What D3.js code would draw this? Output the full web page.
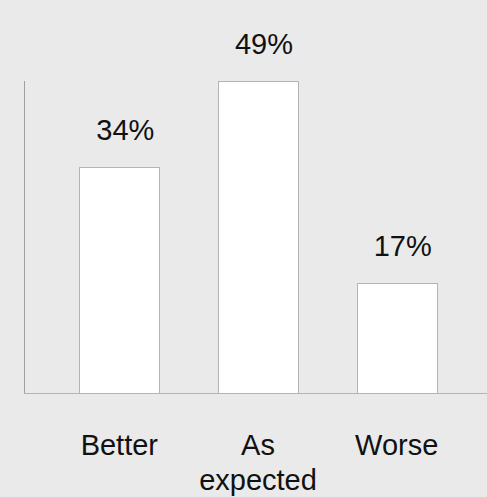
<!DOCTYPE html>
<html>
<head>
<meta charset="utf-8">
<script src="https://cdn.jsdelivr.net/npm/d3@7"></script>
<style>
  html, body { margin: 0; padding: 0; background: #eaeaea; }
  svg { display: block; }
</style>
</head>
<body>
<svg id="chart" width="487" height="497"></svg>
<script>
const categories = [["Better"], ["As", "expected"], ["Worse"]];
const categoryKeys = ["Better", "As expected", "Worse"];
const values = [35.5, 49, 17.3];
const valueLabels = ["34%", "49%", "17%"];

const W = 487, H = 497;
const svg = d3.select("#chart");
svg.append("rect").attr("width", W).attr("height", H).attr("fill", "#eaeaea");

const axisX = 24, baseY = 393, topY = 81;

const x = d3.scaleBand().domain(categoryKeys).range([50, 466])
  .paddingInner(0.422).paddingOuter(0.211);
const y = d3.scaleLinear().domain([0, d3.max(values)]).range([baseY, topY]);

const font = "'Liberation Sans', Arial, sans-serif";

// bars
svg.selectAll("rect.bar").data(values).enter().append("rect")
  .attr("class", "bar")
  .attr("x", (d, i) => Math.round(x(categoryKeys[i])) + 0.5)
  .attr("y", d => Math.round(y(d)) + 0.5)
  .attr("width", Math.round(x.bandwidth()))
  .attr("height", d => baseY - Math.round(y(d)))
  .attr("fill", "#ffffff")
  .attr("stroke", "#b4b4b4")
  .attr("stroke-width", 1);

// axes lines
svg.append("line").attr("x1", axisX + 0.5).attr("x2", axisX + 0.5)
  .attr("y1", topY).attr("y2", baseY + 1)
  .attr("stroke", "#a0a0a0").attr("stroke-width", 1);
svg.append("line").attr("x1", axisX).attr("x2", W)
  .attr("y1", baseY + 0.5).attr("y2", baseY + 0.5)
  .attr("stroke", "#b4b4b4").attr("stroke-width", 1);

// value labels
svg.selectAll("text.val").data(values).enter().append("text")
  .attr("class", "val")
  .attr("x", (d, i) => x(categoryKeys[i]) + x.bandwidth() / 2 + 6)
  .attr("y", d => y(d) - 27)
  .attr("text-anchor", "middle")
  .attr("font-family", font)
  .attr("font-size", 29)
  .attr("fill", "#111")
  .text((d, i) => valueLabels[i]);

// category labels
categories.forEach((lines, i) => {
  const t = svg.append("text")
    .attr("x", x(categoryKeys[i]) + x.bandwidth() / 2)
    .attr("y", 455)
    .attr("text-anchor", "middle")
    .attr("font-family", font)
    .attr("font-size", 29)
    .attr("fill", "#111");
  lines.forEach((ln, j) => {
    t.append("tspan")
      .attr("x", x(categoryKeys[i]) + x.bandwidth() / 2)
      .attr("dy", j === 0 ? 0 : 35)
      .text(ln);
  });
});
</script>
</body>
</html>
